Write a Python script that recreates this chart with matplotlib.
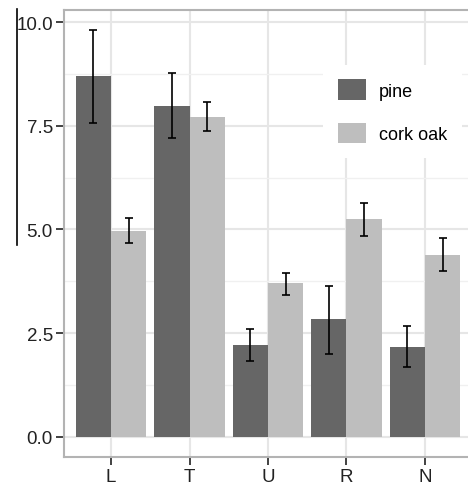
import numpy as np
import matplotlib
matplotlib.use("Agg")
import matplotlib.pyplot as plt
from matplotlib.lines import Line2D
from matplotlib.ticker import MultipleLocator, FormatStrFormatter

plt.rcParams['font.family'] = ['Liberation Sans', 'DejaVu Sans']

categories = ['L', 'T', 'U', 'R', 'N']
pine = [8.70, 7.98, 2.22, 2.84, 2.17]
pine_lo = [7.57, 7.21, 1.83, 2.00, 1.69]
pine_hi = [9.80, 8.78, 2.60, 3.64, 2.67]
cork = [4.97, 7.72, 3.71, 5.25, 4.39]
cork_lo = [4.67, 7.36, 3.42, 4.84, 4.00]
cork_hi = [5.28, 8.08, 3.95, 5.64, 4.80]
series_names = ['pine', 'cork oak']
colors = ['#666666', '#bebebe']

fig = plt.figure(figsize=(4.68, 4.89), dpi=100)
# panel spans beyond the right edge (cropped original)
ax = fig.add_axes([64 / 468, (489 - 458) / 489, (472 - 64) / 468, (458 - 11) / 489])

x = np.arange(len(categories))
w = 0.45
for i, (vals, lo, hi) in enumerate([(pine, pine_lo, pine_hi), (cork, cork_lo, cork_hi)]):
    pos = x + (i - 0.5) * w
    ax.bar(pos, vals, width=w, color=colors[i], label=series_names[i], zorder=2)
    vals = np.array(vals)
    yerr = [vals - np.array(lo), np.array(hi) - vals]
    ax.errorbar(pos, vals, yerr=yerr, fmt='none', ecolor='black',
                elinewidth=1.2, capsize=3, capthick=1.2, zorder=3)

ax.set_xlim(-0.6, len(categories) - 0.4)
ax.set_ylim(-0.49, 10.29)
ax.set_xticks(x)
ax.set_xticklabels(categories)
ax.yaxis.set_major_locator(MultipleLocator(2.5))
ax.yaxis.set_minor_locator(MultipleLocator(1.25))
ax.yaxis.set_major_formatter(FormatStrFormatter('%.1f'))

ax.grid(which='major', color='#e6e6e6', linewidth=1.5, zorder=0)
ax.grid(which='minor', axis='y', color='#f0f0f0', linewidth=1.0, zorder=0)
ax.set_axisbelow(True)

for s in ax.spines.values():
    s.set_color('#b3b3b3')
    s.set_linewidth(1.5)
ax.tick_params(axis='both', which='major', length=6, width=1.3, color='#333333',
               labelsize=13.5, labelcolor='#222222', pad=2)
ax.tick_params(axis='y', which='minor', length=0)

leg = ax.legend(loc='upper right', bbox_to_anchor=((471 - 64) / 408, (458 - 57) / 447),
                frameon=True, fontsize=13, handlelength=1.55, handleheight=1.35,
                labelspacing=1.3, borderpad=0.8, handletextpad=0.75)
leg.get_frame().set_facecolor('white')
leg.get_frame().set_edgecolor('none')
leg.get_frame().set_alpha(1)

# stray vertical line at the left edge
fig.add_artist(Line2D([17 / 468, 17 / 468], [1 - 10 / 489, 1 - 246 / 489],
                      color='black', linewidth=1.2))

fig.savefig('out.png', dpi=100)
